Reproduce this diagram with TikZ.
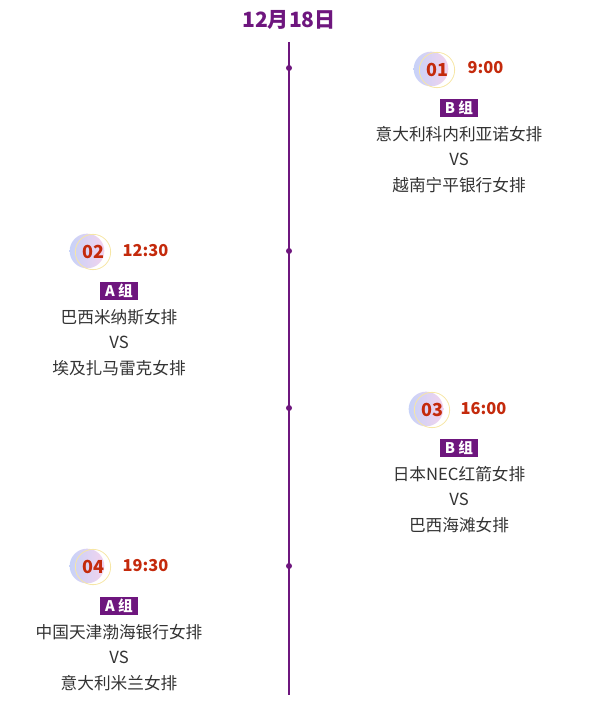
\documentclass[tikz,border=0pt]{standalone}
\usepackage{fontspec}
\newfontfamily\cjk{Noto Sans CJK SC}
\usepackage{xcolor}
\usetikzlibrary{positioning}
\definecolor{tlpurple}{HTML}{6E167E}
\definecolor{tlred}{HTML}{C42A0C}
\definecolor{tltext}{HTML}{333333}
\definecolor{tlblue}{HTML}{C7D2F8}
\definecolor{tlpink}{HTML}{F2D3EE}
\definecolor{tlring}{HTML}{F6E6A6}

\begin{document}
\begin{tikzpicture}[x=0.75pt, y=-0.75pt, font=\cjk,
  title/.style={font=\cjk\bfseries\fontsize{15.8}{18}\selectfont, text=tlpurple},
  dot/.style={circle, fill=tlpurple, inner sep=0pt, minimum size=4.5pt},
  badge/.style={circle, inner sep=0pt, minimum size=26pt, left color=tlblue, right color=tlpink},
  ring/.style={circle, draw=tlring, line width=0.6pt, inner sep=0pt, minimum size=26.5pt,
    text=tlred, font=\cjk\bfseries\fontsize{13.5}{16}\selectfont},
  hour/.style={anchor=west, text=tlred, font=\cjk\bfseries\fontsize{12.3}{14}\selectfont},
  grp/.style={fill=tlpurple, text=white, inner sep=0pt, minimum width=28pt, minimum height=13.5pt,
    font=\cjk\bfseries\fontsize{11}{13}\selectfont},
  team/.style={text=tltext, font=\cjk\fontsize{12.5}{15}\selectfont}]
\useasboundingbox (0,0) rectangle (590,717);
% date and time line
\node[title] (date) at (289,20) {12月18日};
\coordinate (top) at (289,42);
\coordinate (bot) at (289,695);
\draw[tlpurple, line width=0.9pt] (top) -- (bot);
\node[dot] (d1) at (289,68) {};
\node[dot] (d2) at (289,251) {};
\node[dot] (d3) at (289,408) {};
\node[dot] (d4) at (289,566) {};
% match 01
\node[badge] (b1) at (431,69) {};
\node[ring] (n1) at (437,70) {01};
\node[hour] (h1) at (463,68) {9:00};
\node[grp] (g1) at (459,108) {B 组};
\node[team] (t1a) at (459,134) {意大利科内利亚诺女排};
\node[team] (v1) at (459,159) {VS};
\node[team] (t1b) at (459,185) {越南宁平银行女排};
% match 02
\node[badge] (b2) at (87,251) {};
\node[ring] (n2) at (93,252) {02};
\node[hour] (h2) at (118,251) {12:30};
\node[grp] (g2) at (119,291) {A 组};
\node[team] (t2a) at (119,317) {巴西米纳斯女排};
\node[team] (v2) at (119,342) {VS};
\node[team] (t2b) at (119,368) {埃及扎马雷克女排};
% match 03
\node[badge] (b3) at (426,409) {};
\node[ring] (n3) at (432,410) {03};
\node[hour] (h3) at (456,409) {16:00};
\node[grp] (g3) at (459,448) {B 组};
\node[team] (t3a) at (459,474) {日本NEC红箭女排};
\node[team] (v3) at (459,499) {VS};
\node[team] (t3b) at (459,525) {巴西海滩女排};
% match 04
\node[badge] (b4) at (87,566) {};
\node[ring] (n4) at (93,567) {04};
\node[hour] (h4) at (118,566) {19:30};
\node[grp] (g4) at (119,606) {A 组};
\node[team] (t4a) at (119,632) {中国天津渤海银行女排};
\node[team] (v4) at (119,657) {VS};
\node[team] (t4b) at (119,683) {意大利米兰女排};
\end{tikzpicture}
\end{document}
